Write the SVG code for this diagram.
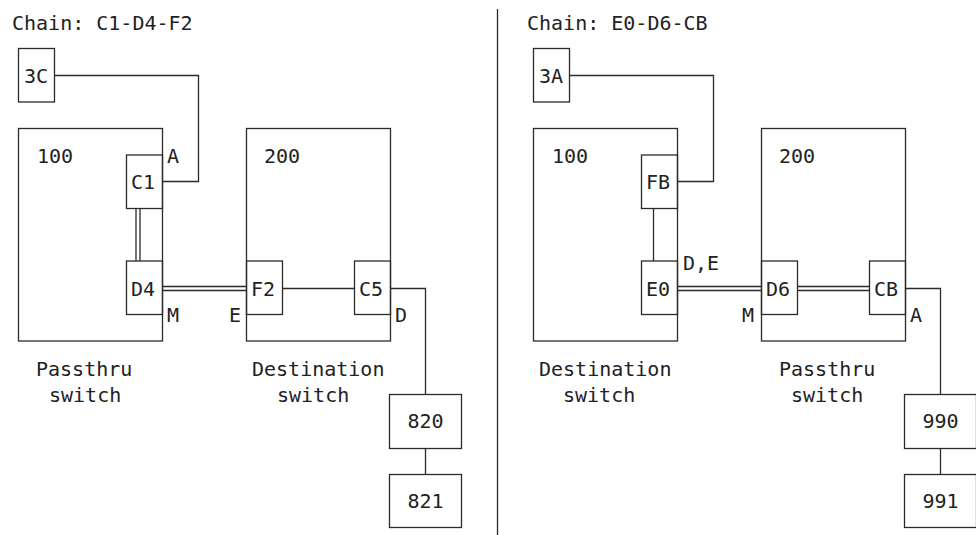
<svg xmlns="http://www.w3.org/2000/svg" width="976" height="535" viewBox="0 0 976 535">
<style>
.b{fill:none;stroke:#2a2a2a;stroke-width:1.3}
.c{fill:none;stroke:#2a2a2a;stroke-width:1.3}
text{font-family:"DejaVu Sans Mono","Liberation Mono",monospace;font-size:20px;fill:#222}
.m{text-anchor:middle}
</style>
<rect width="976" height="535" fill="#fff"/>
<text x="12" y="30">Chain: C1-D4-F2</text>
<text x="527" y="30">Chain: E0-D6-CB</text>
<line class="c" x1="497.5" y1="9" x2="497.5" y2="535"/>

<g id="left">
<g id="n3C"><rect class="b" x="18.5" y="48.5" width="36" height="53.5"/><text x="24" y="83">3C</text></g>
<g id="n100L"><rect class="b" x="18.5" y="128.5" width="144" height="212.5"/><text x="37" y="163">100</text></g>
<g id="nC1"><rect class="b" x="126.5" y="155" width="36" height="53.5"/><text x="131" y="189">C1</text></g>
<g id="nD4"><rect class="b" x="126.5" y="261" width="36" height="53.5"/><text x="131" y="296">D4</text></g>
<g id="n200L"><rect class="b" x="246.5" y="128.5" width="144" height="212.5"/><text x="264" y="163">200</text></g>
<g id="nF2"><rect class="b" x="246.5" y="261" width="36" height="53.5"/><text x="251" y="296">F2</text></g>
<g id="nC5"><rect class="b" x="354.5" y="261" width="36" height="53.5"/><text x="359" y="296">C5</text></g>
<g id="n820"><rect class="b" x="389.5" y="394.5" width="72" height="54"/><text class="m" x="425.5" y="428">820</text></g>
<g id="n821"><rect class="b" x="389.5" y="474.5" width="72" height="53"/><text class="m" x="425.5" y="508">821</text></g>
<text x="167" y="163">A</text>
<text x="167" y="322">M</text>
<text x="229" y="322">E</text>
<text x="395" y="322">D</text>
<text x="36" y="376">Passthru</text>
<text x="49" y="402">switch</text>
<text x="252" y="376">Destination</text>
<text x="277" y="402">switch</text>
</g>

<g id="right">
<g id="n3A"><rect class="b" x="533.5" y="48.5" width="36" height="53.5"/><text x="539" y="83">3A</text></g>
<g id="n100R"><rect class="b" x="533.5" y="128.5" width="144" height="212.5"/><text x="552" y="163">100</text></g>
<g id="nFB"><rect class="b" x="641.5" y="155" width="36" height="53.5"/><text x="646" y="189">FB</text></g>
<g id="nE0"><rect class="b" x="641.5" y="261" width="36" height="53.5"/><text x="646" y="296">E0</text></g>
<g id="n200R"><rect class="b" x="761.5" y="128.5" width="144" height="212.5"/><text x="779" y="163">200</text></g>
<g id="nD6"><rect class="b" x="761.5" y="261" width="36" height="53.5"/><text x="766" y="296">D6</text></g>
<g id="nCB"><rect class="b" x="869.5" y="261" width="36" height="53.5"/><text x="874" y="296">CB</text></g>
<g id="n990"><rect class="b" x="904.5" y="394.5" width="72" height="54"/><text class="m" x="940.5" y="428">990</text></g>
<g id="n991"><rect class="b" x="904.5" y="474.5" width="72" height="53"/><text class="m" x="940.5" y="508">991</text></g>
<text x="683" y="270">D,E</text>
<text x="742" y="322">M</text>
<text x="910" y="322">A</text>
<text x="539" y="376">Destination</text>
<text x="563" y="402">switch</text>
<text x="779" y="376">Passthru</text>
<text x="791" y="402">switch</text>
</g>

<g id="connectors">
<polyline class="c" points="54.5,75.5 198.5,75.5 198.5,181.5 162.5,181.5"/>
<line class="c" x1="136" y1="208.5" x2="136" y2="261"/>
<line class="c" x1="140" y1="208.5" x2="140" y2="261"/>
<line class="c" x1="162.5" y1="286.5" x2="246.5" y2="286.5"/>
<line class="c" x1="162.5" y1="290.5" x2="246.5" y2="290.5"/>
<line class="c" x1="282.5" y1="288.5" x2="354.5" y2="288.5"/>
<polyline class="c" points="390.5,288.5 425.5,288.5 425.5,394.5"/>
<line class="c" x1="425.5" y1="448.5" x2="425.5" y2="474.5"/>

<polyline class="c" points="569.5,75.5 713.5,75.5 713.5,181.5 677.5,181.5"/>
<line class="c" x1="653.5" y1="208.5" x2="653.5" y2="261"/>
<line class="c" x1="677.5" y1="286.5" x2="761.5" y2="286.5"/>
<line class="c" x1="677.5" y1="290.5" x2="761.5" y2="290.5"/>
<line class="c" x1="797.5" y1="286.5" x2="869.5" y2="286.5"/>
<line class="c" x1="797.5" y1="290.5" x2="869.5" y2="290.5"/>
<polyline class="c" points="905.5,288.5 940.5,288.5 940.5,394.5"/>
<line class="c" x1="940.5" y1="448.5" x2="940.5" y2="474.5"/>
</g>
</svg>
